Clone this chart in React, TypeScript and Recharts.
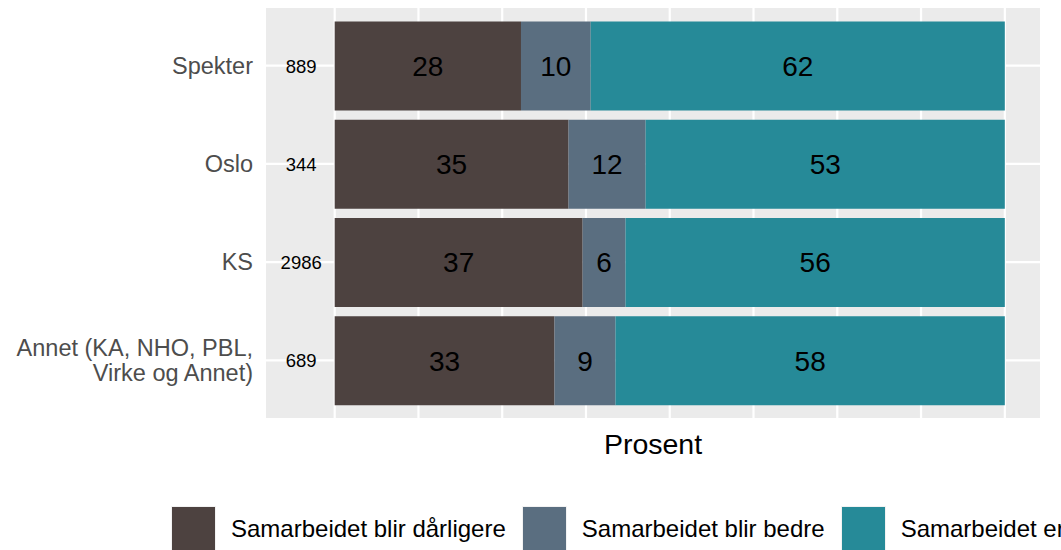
import React from 'react';
import { BarChart, Bar, XAxis, YAxis, CartesianGrid, LabelList } from 'recharts';

const categories = ['Spekter', 'Oslo', 'KS', 'Annet (KA, NHO, PBL,\nVirke og Annet)'];
const respondents = [889, 344, 2986, 689];
// bar lengths (percent)
const worse = [27.8, 34.9, 37.0, 32.8];
const better = [10.4, 11.5, 6.4, 9.1];
const unchanged = [61.8, 53.6, 56.6, 58.1];
// printed labels
const worseLabels = [28, 35, 37, 33];
const betterLabels = [10, 12, 6, 9];
const unchangedLabels = [62, 53, 56, 58];
const xTicks = [0, 12.5, 25, 37.5, 50, 62.5, 75, 87.5, 100];

const seriesKeys = ['worse', 'better', 'unchanged'];
const seriesNames = ['Samarbeidet blir dårligere', 'Samarbeidet blir bedre', 'Samarbeidet er uendret'];
const seriesColors = ['#4D4240', '#5A6E80', '#268A98'];

const data = categories.map((name, i) => ({
  name,
  n: respondents[i],
  nSlot: -10,
  worse: worse[i],
  better: better[i],
  unchanged: unchanged[i],
  worseLabel: worseLabels[i],
  betterLabel: betterLabels[i],
  unchangedLabel: unchangedLabels[i],
}));

const FONT = '"Liberation Sans", Arial, Helvetica, sans-serif';

const CategoryTick = (props: any) => {
  const { x, y, payload } = props;
  const lines = String(payload.value).split('\n');
  const lh = 25;
  const startY = y - ((lines.length - 1) * lh) / 2;
  return (
    <text x={x} y={startY} textAnchor="end" fill="#4D4D4D" fontSize={23.5} fontFamily={FONT}>
      {lines.map((l, i) => (
        <tspan key={i} x={x} y={startY + i * lh} dy="0.35em">
          {l}
        </tspan>
      ))}
    </text>
  );
};

const ProsentLabel = (props: any) => {
  const { viewBox } = props;
  const cx = viewBox.x + viewBox.width / 2;
  return (
    <text x={cx} y={viewBox.y + 35} textAnchor="middle" fill="#000" fontSize={28.5} fontFamily={FONT}>
      Prosent
    </text>
  );
};

const verticalGen = (props: any) => {
  const ax = props && props.xAxis;
  if (ax && typeof ax.scale === 'function') {
    return xTicks.map((t) => ax.scale(t));
  }
  if (ax && ax.scale && typeof ax.scale.map === 'function') {
    return xTicks.map((t) => ax.scale.map(t));
  }
  return [];
};

export default function App() {
  return (
    <div style={{ position: 'absolute', left: 0, top: 0, width: 1061, height: 550, overflow: 'hidden', background: '#fff' }}>
      <BarChart
        width={1061}
        height={550}
        data={data}
        layout="vertical"
        stackOffset="sign"
        margin={{ top: 7, right: 21, bottom: 0, left: 0 }}
      >
        <CartesianGrid
          stroke="#FFFFFF"
          strokeWidth={2.2}
          fill="#EBEBEB"
          fillOpacity={1}
          verticalCoordinatesGenerator={verticalGen}
        />
        <XAxis
          type="number"
          domain={[-10.25, 105.25]}
          ticks={xTicks}
          tick={false}
          tickLine={false}
          axisLine={false}
          height={131}
          label={<ProsentLabel />}
        />
        <YAxis
          type="category"
          dataKey="name"
          width={266}
          tickLine={false}
          axisLine={false}
          tickSize={0}
          tickMargin={13}
          padding={{ top: 9.6, bottom: 9.6 }}
          tick={<CategoryTick />}
          interval={0}
        />
        <Bar dataKey="nSlot" stackId="a" fill="transparent" barSize={89} isAnimationActive={false}>
          <LabelList dataKey="n" position="center" fill="#000" fontSize={18.5} fontFamily={FONT} />
        </Bar>
        {seriesKeys.map((k, i) => (
          <Bar key={k} dataKey={k} stackId="a" fill={seriesColors[i]} barSize={89} isAnimationActive={false}>
            <LabelList dataKey={k + 'Label'} position="center" fill="#000" fontSize={28} fontFamily={FONT} />
          </Bar>
        ))}
      </BarChart>
      <div style={{ position: 'absolute', left: 171, top: 506, display: 'flex', alignItems: 'center', whiteSpace: 'nowrap', fontFamily: FONT, fontSize: 24, color: '#000' }}>
        {seriesNames.map((nm, i) => (
          <div key={nm} style={{ display: 'flex', alignItems: 'center', marginRight: 16 }}>
            <div style={{ width: 45, height: 45, background: seriesColors[i], border: '1px solid #F2F2F2', boxSizing: 'border-box' }} />
            <span style={{ marginLeft: 15 }}>{nm}</span>
          </div>
        ))}
      </div>
    </div>
  );
}
